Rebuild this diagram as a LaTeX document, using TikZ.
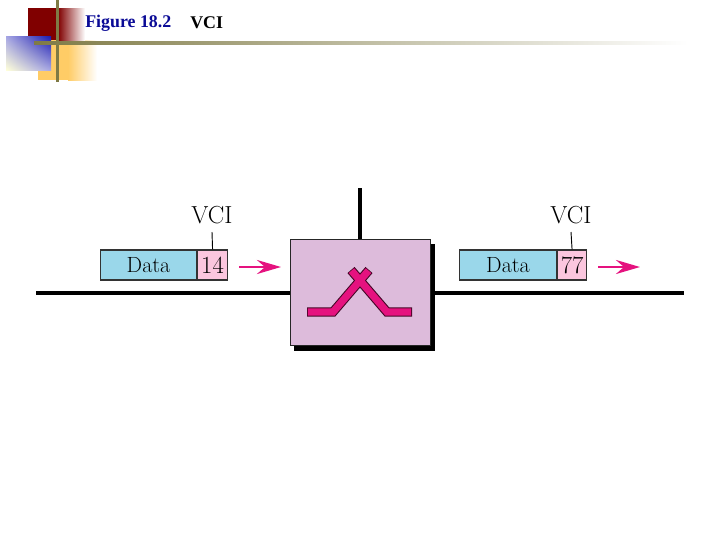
\documentclass[tikz,border=0pt]{standalone}
\usepackage{fontspec}
\newfontfamily\titlefont{Liberation Serif}
\usetikzlibrary{positioning,arrows.meta,calc,shadings}
\definecolor{vcipink}{HTML}{E5127F}
\definecolor{vciblue}{HTML}{9AD7EA}
\definecolor{vcirose}{HTML}{FBC6DE}
\definecolor{vcimauve}{HTML}{DDBBDB}
\definecolor{vciolive}{HTML}{7F7A45}
\definecolor{vcinavy}{HTML}{0A0A96}
\definecolor{vciorange}{HTML}{FFCC66}
\tikzset{
    datacell/.style={draw=black!80,line width=0.8pt,fill=vciblue,minimum width=72.5pt,minimum height=22.5pt,inner sep=0pt,font=\fontsize{16.5}{16.5}\selectfont},
    vcicell/.style={draw=black!80,line width=0.8pt,fill=vcirose,minimum width=22pt,minimum height=22.5pt,inner sep=0pt,font=\fontsize{18.5}{18.5}\selectfont},
    vcilabel/.style={inner sep=0pt,font=\fontsize{18.5}{18.5}\selectfont},
    tick/.style={draw,line width=0.7pt},
    trunk/.style={draw,line width=3pt},
    flow/.style={draw=vcipink,line width=2.2pt,-{Stealth[length=18pt,width=10.5pt,inset=6pt]}},
    switchbox/.style={draw=black!85,line width=0.7pt,fill=vcimauve,minimum width=105pt,minimum height=80pt,inner sep=0pt},
    titletext/.style={inner sep=0pt,anchor=west,font=\titlefont\fontsize{13.4}{13.4}\selectfont\bfseries},
}
\begin{document}
\begin{tikzpicture}[x=0.75pt,y=-0.75pt]
    \useasboundingbox (0,0) rectangle (720,540);

    % corner decoration
    \fill[vciorange] (38,40) rectangle (68,80);
    \shade[left color=vciorange,right color=white] (68,40) rectangle (97,80);
    \fill[red!50!black] (28,8) rectangle (58,40);
    \shade[left color=red!50!black,right color=white] (58,8) rectangle (85,40);
    \shade[lower left=yellow!15,upper right=blue!65!black!90,lower right=black!30!blue!35,upper left=black!30!blue!35] (6,36) rectangle (51,70);
    \fill[vciolive] (56,0) rectangle (59,82);
    \shade[left color=vciolive,middle color=vciolive!90,right color=white] (34,41.5) rectangle (688,44.5);

    \node[titletext,text=vcinavy] (fig) at (85,23) {Figure 18.2};
    \node[titletext] (name) at (190,23) {VCI};

    % switch
    \coordinate (inl) at (36,293);
    \coordinate (outr) at (684,293);
    \coordinate (up) at (360,188);
    \fill[black] (294,244) rectangle (435,351);
    \node[switchbox] (sw) at (360,292.5) {};
    \path[trunk] (inl) -- (sw.west |- inl);
    \path[trunk] (sw.east |- outr) ++(3,0) -- (outr);
    \path[trunk] (up) -- (sw.north -| up);
    \foreach \a/\b/\c in {307/333/369,412/387/351}{
        \draw[black!70!vcipink,line width=7pt,miter limit=4] (\a,312) -- (\b,312) -- (\c,270);
    }
    \foreach \a/\b/\c in {307/333/369,412/387/351}{
        \draw[vcipink,line width=5.4pt,miter limit=4,shorten <=0.6pt,shorten >=0.6pt] (\a,312) -- (\b,312) -- (\c,270);
    }

    % left frame
    \node[datacell] (dataL) at (148.5,265) {Data};
    \node[vcicell,right=0pt of dataL] (numL) {14};
    \node[vcilabel] (vciL) at (212,215) {VCI};
    \path[tick] (vciL.south |- 0,232) -- (numL.north);
    \coordinate (arrL) at (239,267);
    \coordinate (endL) at (281,267);
    \path[flow] (arrL) -- (endL);

    % right frame
    \node[datacell] (dataR) at (508,265) {Data};
    \node[vcicell,right=0pt of dataR] (numR) {77};
    \node[vcilabel] (vciR) at (571,215) {VCI};
    \path[tick] (vciR.south |- 0,232) -- (numR.north);
    \coordinate (arrR) at (598,267);
    \coordinate (endR) at (640,267);
    \path[flow] (arrR) -- (endR);
\end{tikzpicture}
\end{document}
